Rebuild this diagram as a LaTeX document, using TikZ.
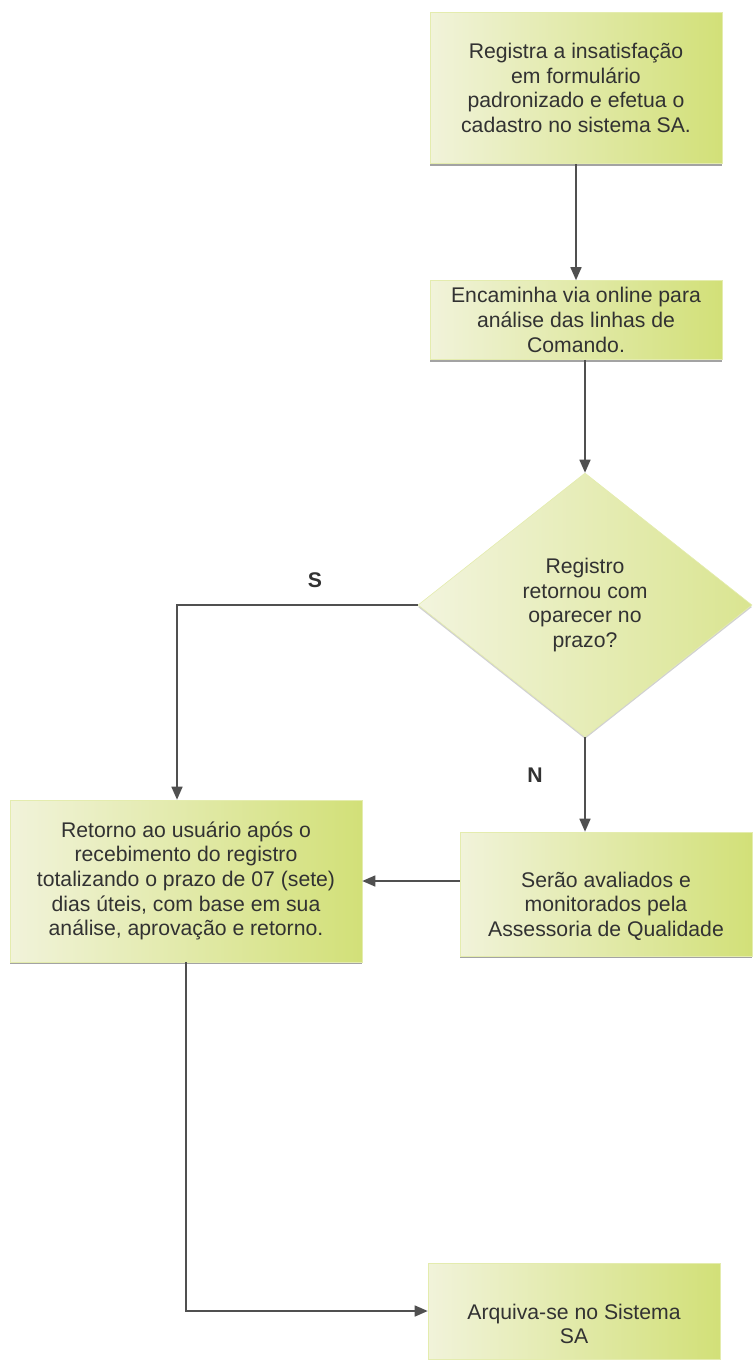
\documentclass[tikz,border=0pt]{standalone}
\usepackage{fontspec}
\setmainfont{Liberation Sans}
\usetikzlibrary{arrows.meta,positioning,shapes.geometric,shadows}
\definecolor{BoxLt}{RGB}{241,243,218}
\definecolor{BoxDk}{RGB}{210,224,120}
\definecolor{LineGr}{RGB}{80,80,80}
\definecolor{TextGr}{RGB}{50,50,50}
\tikzset{
  stepbox/.style={rectangle,left color=BoxLt,right color=BoxDk,draw=BoxDk!60,
                  line width=0.3pt,align=center,inner sep=2pt,text=TextGr,
                  font=\fontsize{10.6}{12.3}\selectfont,
                  drop shadow={shadow xshift=0pt,shadow yshift=-1.1pt,fill=black!45,opacity=0.8}},
  boxtext/.style={align=center,inner sep=0pt,text=TextGr,font=\fontsize{10.6}{12.3}\selectfont},
  decide/.style={diamond,left color=BoxLt!90!white,right color=BoxDk!75!BoxLt,draw=BoxDk!60,
                 line width=0.3pt,align=center,inner sep=0pt,text=TextGr,
                 font=\fontsize{10.6}{12.3}\selectfont,
                 drop shadow={shadow xshift=0pt,shadow yshift=-1pt,fill=black!30,opacity=0.6}},
  flow/.style={-{Triangle[length=6.5pt,width=5.5pt]},line width=0.8pt,LineGr},
  tag/.style={font=\bfseries\fontsize{10.6}{12}\selectfont,text=TextGr},
}

\begin{document}
\begin{tikzpicture}[x=0.5pt,y=-0.5pt]
  \useasboundingbox (0,0) rectangle (752,1360);
  % boxes
  \node[stepbox,minimum width=146pt,minimum height=75.5pt] (reg) at (576,88)
    {Registra a insatisfação\\em formulário\\padronizado e efetua o\\cadastro no sistema SA.};
  \node[stepbox,minimum width=146pt,minimum height=39.5pt] (enc) at (576,320)
    {Encaminha via online para\\análise das linhas de\\Comando.};
  \node[decide,minimum width=167pt,minimum height=132pt] (dec) at (585,605)
    {Registro\\retornou com\\oparecer no\\prazo?};
  \node[stepbox,minimum width=176pt,minimum height=81pt] (ret) at (186,881)
    {Retorno ao usuário após o\\recebimento do registro\\totalizando o prazo de 07 (sete)\\dias úteis, com base em sua\\análise, aprovação e retorno.};
  \node[stepbox,minimum width=146pt,minimum height=62pt] (ava) at (606,894) {};
  \node[boxtext] (avaTxt) at (606,906)
    {Serão avaliados e\\monitorados pela\\Assessoria de Qualidade};
  \node[stepbox,minimum width=146pt,minimum height=48pt] (arq) at (574,1311) {};
  \node[boxtext] (arqTxt) at (574,1324) {Arquiva-se no Sistema\\SA};
  % S / N
  \node[tag] (sim) at (315,580) {S};
  \node[tag] (nao) at (535,775) {N};
  % connectors
  \draw[flow] (reg.south) -- (enc.north);
  \draw[flow] (enc.south -| dec.north) -- (dec.north);
  \draw[flow] (dec.west) -| ([xshift=-4.5pt]ret.north);
  \draw[flow] (dec.south) -- (dec.south |- ava.north);
  \draw[flow] (ava.west |- ret.east) -- (ret.east);
  \draw[flow] (ret.south) |- (arq.west);
\end{tikzpicture}
\end{document}
